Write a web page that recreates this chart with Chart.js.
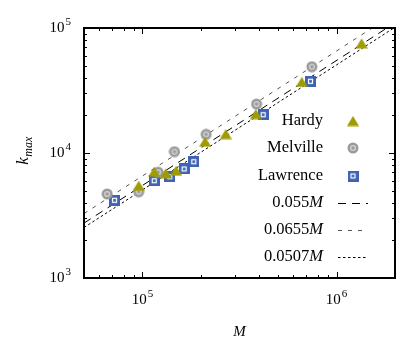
<!DOCTYPE html>
<html>
<head>
<meta charset="utf-8">
<script src="https://cdn.jsdelivr.net/npm/chart.js@4.4.0/dist/chart.umd.min.js"></script>
<style>
html,body{margin:0;padding:0;background:#fff;}
#wrap{width:415px;height:345px;position:relative;}
</style>
</head>
<body>
<div id="wrap"><canvas id="c" width="415" height="345"></canvas></div>
<script>
// ---- data ----
const hardyM = [95700, 115000, 131900, 149200, 210300, 268500, 384000, 662000, 1346000];
const hardyK = [5475, 7080, 6880, 7215, 12310, 14190, 20500, 37000, 75400];
const melvilleM = [65800, 95700, 120500, 146200, 212900, 387000, 746000];
const melvilleK = [4700, 4900, 7020, 10250, 14100, 24660, 49000];
const lawrenceM = [71800, 115000, 138300, 164000, 183800, 418800, 734000];
const lawrenceK = [4185, 6000, 6460, 7450, 8520, 20250, 37480];
const fitCoef = [0.055, 0.0655, 0.0507];
const fitLabels = ['0.055', '0.0655', '0.0507'];
const fitRangeM = [50000, 2000000];
const xMajorTicks = [1e5, 1e6];
const xTickExp = ['5', '6'];
const yMajorTicks = [1e3, 1e4, 1e5];
const yTickExp = ['3', '4', '5'];
const seriesNames = ['Hardy', 'Melville', 'Lawrence'];

const OLIVE = '#9e9c00', GREY = '#9a9a9a', BLUE = '#3f62b4';
function mk(draw, w, h) {
  const c = document.createElement('canvas'); c.width = w; c.height = h;
  draw(c.getContext('2d')); return c;
}
const triImg = mk(g => { g.fillStyle = OLIVE; g.beginPath(); g.moveTo(6,0.5); g.lineTo(12,10.5); g.lineTo(0,10.5); g.closePath(); g.fill(); }, 12, 11);
const circImg = mk(g => {
  g.fillStyle = GREY; g.beginPath(); g.arc(6,6,5.5,0,Math.PI*2); g.fill();
  g.strokeStyle = '#d4d4d4'; g.lineWidth = 1.3; g.beginPath(); g.arc(6,6,2.4,0,Math.PI*2); g.stroke();
}, 12, 12);
const sqImg = mk(g => {
  g.fillStyle = BLUE; g.fillRect(0,0,11,11);
  g.strokeStyle = '#ffffff'; g.lineWidth = 1.2; g.strokeRect(3.5,3.5,4,4);
}, 11, 11);
const imgs = [triImg, circImg, sqImg];

function pts(xs, ys) { return xs.map((x, i) => ({x: x, y: ys[i]})); }
const dashes = [[8,6],[4,6],[2.5,2.5]];

const datasets = [
  {label: seriesNames[0], data: pts(hardyM, hardyK), pointStyle: triImg, showLine: false},
  {label: seriesNames[1], data: pts(melvilleM, melvilleK), pointStyle: circImg, showLine: false},
  {label: seriesNames[2], data: pts(lawrenceM, lawrenceK), pointStyle: sqImg, showLine: false},
];
fitCoef.forEach((c, i) => {
  datasets.push({label: fitLabels[i] + 'M', type: 'line',
    data: fitRangeM.map(m => ({x: m, y: c * m})),
    borderColor: i === 1 ? '#555' : '#000', borderWidth: 1, borderDash: dashes[i],
    pointRadius: 0, fill: false});
});

function sup(ctx, base, exp, x, y, align) {
  ctx.font = '15px "Liberation Serif"';
  const wb = ctx.measureText(base).width;
  ctx.font = '11px "Liberation Serif"';
  const we = ctx.measureText(exp).width;
  const tot = wb + we + 1;
  let x0 = align === 'right' ? x - tot : x - tot / 2;
  ctx.textAlign = 'left'; ctx.textBaseline = 'middle';
  ctx.font = '15px "Liberation Serif"'; ctx.fillText(base, x0, y);
  ctx.font = '11px "Liberation Serif"'; ctx.fillText(exp, x0 + wb + 1, y - 6);
}

const LF = '16.5px "Liberation Serif"', LFI = 'italic 16.5px "Liberation Serif"';
const deco = {
  id: 'deco',
  afterDraw(chart) {
    const ctx = chart.ctx, a = chart.chartArea, xs = chart.scales.x, ys = chart.scales.y;
    ctx.save();
    ctx.fillStyle = '#000'; ctx.strokeStyle = '#000';
    // ticks
    ctx.lineWidth = 1;
    const xDec = [4, 5, 6], yDec = [3, 4];
    ctx.beginPath();
    xDec.forEach(e => { for (let d = 1; d <= 9; d++) {
      const v = d * Math.pow(10, e); if (v < xs.min || v > xs.max) continue;
      const p = Math.round(xs.getPixelForValue(v)) + 0.5, L = d === 1 ? 6 : 3;
      ctx.moveTo(p, a.bottom); ctx.lineTo(p, a.bottom - L);
      ctx.moveTo(p, a.top); ctx.lineTo(p, a.top + L);
    }});
    yDec.forEach(e => { for (let d = 1; d <= 10; d++) {
      const v = d * Math.pow(10, e); if (v < ys.min || v > ys.max) continue;
      const p = Math.round(ys.getPixelForValue(v)) + 0.5, L = (d === 1 || d === 10) ? 6 : 3;
      ctx.moveTo(a.left, p); ctx.lineTo(a.left + L, p);
      ctx.moveTo(a.right, p); ctx.lineTo(a.right - L, p);
    }});
    ctx.stroke();
    // frame
    ctx.lineWidth = 2;
    ctx.strokeRect(a.left, a.top, a.right - a.left, a.bottom - a.top);
    // tick labels
    xMajorTicks.forEach((v, i) => sup(ctx, '10', xTickExp[i], xs.getPixelForValue(v), a.bottom + 22, 'center'));
    yMajorTicks.forEach((v, i) => sup(ctx, '10', yTickExp[i], a.left - 13, ys.getPixelForValue(v), 'right'));
    // axis titles
    ctx.font = 'italic 15px "Liberation Serif"'; ctx.textAlign = 'center'; ctx.textBaseline = 'middle';
    ctx.fillText('M', (a.left + a.right) / 2, 332);
    ctx.save(); ctx.translate(26, 151); ctx.rotate(-Math.PI / 2);
    ctx.font = 'italic 17px "Liberation Serif"';
    const wk = ctx.measureText('k').width;
    ctx.font = 'italic 12px "Liberation Serif"';
    const wm = ctx.measureText('max').width;
    const x0 = -(wk + wm) / 2;
    ctx.textAlign = 'left';
    ctx.font = 'italic 17px "Liberation Serif"'; ctx.fillText('k', x0, -2);
    ctx.font = 'italic 12px "Liberation Serif"'; ctx.fillText('max', x0 + wk + 0.5, 3);
    ctx.restore();
    // legend
    const ly = [121, 148, 176, 203, 230, 257], tx = 323;
    ctx.textBaseline = 'middle';
    for (let i = 0; i < 3; i++) {
      ctx.font = LF; ctx.textAlign = 'right';
      ctx.fillText(seriesNames[i], tx, ly[i]);
      const im = imgs[i]; ctx.drawImage(im, 353 - im.width / 2, ly[i] - im.height / 2);
    }
    for (let i = 0; i < 3; i++) {
      const y = ly[3 + i];
      ctx.font = LFI; ctx.textAlign = 'right';
      const wM = ctx.measureText('M').width;
      ctx.fillText('M', tx, y);
      ctx.font = LF;
      ctx.fillText(fitLabels[i], tx - wM, y);
      ctx.setLineDash(dashes[i]); ctx.lineWidth = 1; ctx.strokeStyle = i === 1 ? '#555' : '#000';
      ctx.beginPath(); ctx.moveTo(338, Math.round(y) + 0.5); ctx.lineTo(368, Math.round(y) + 0.5); ctx.stroke();
      ctx.setLineDash([]);
    }
    ctx.restore();
  }
};

new Chart(document.getElementById('c'), {
  type: 'scatter',
  data: {datasets: datasets},
  options: {
    responsive: false, animation: false, devicePixelRatio: 1,
    layout: {padding: {left: 84, top: 28, right: 20, bottom: 67}},
    plugins: {legend: {display: false}, tooltip: {enabled: false}},
    scales: {
      x: {type: 'logarithmic', min: 50000, max: 2000000, display: false},
      y: {type: 'logarithmic', min: 1000, max: 100000, display: false}
    }
  },
  plugins: [deco]
});
</script>
</body>
</html>
